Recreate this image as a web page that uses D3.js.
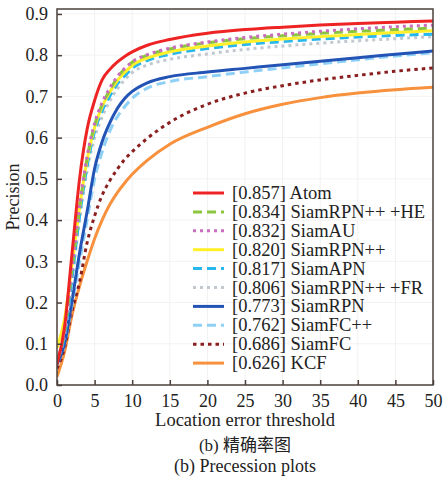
<!DOCTYPE html>
<html>
<head>
<meta charset="utf-8">
<script src="https://cdn.jsdelivr.net/npm/d3@7"></script>
<style>
  body { margin: 0; background: #fff; }
  text { font-family: "Liberation Serif", "Times New Roman", serif; fill: #222; }
</style>
</head>
<body>
<svg width="447" height="482"></svg>
<script>
var thresholds = [0, 1, 2, 3, 4, 5, 6, 7, 8, 9, 10, 12, 15, 20, 25, 30, 35, 40, 45, 50];

var atom      = [0.05, 0.14, 0.32, 0.50, 0.62, 0.69, 0.74, 0.765, 0.783, 0.797, 0.808, 0.824, 0.838, 0.853, 0.862, 0.868, 0.873, 0.877, 0.880, 0.883];
var rpnHE     = [0.06, 0.13, 0.28, 0.43, 0.55, 0.63, 0.68, 0.715, 0.745, 0.767, 0.783, 0.800, 0.815, 0.830, 0.840, 0.847, 0.853, 0.858, 0.862, 0.866];
var siamAU    = [0.06, 0.13, 0.285, 0.435, 0.555, 0.635, 0.685, 0.72, 0.748, 0.768, 0.784, 0.801, 0.817, 0.832, 0.843, 0.851, 0.858, 0.864, 0.869, 0.873];
var rpnPP     = [0.09, 0.16, 0.29, 0.43, 0.545, 0.625, 0.675, 0.71, 0.738, 0.758, 0.775, 0.793, 0.808, 0.822, 0.832, 0.839, 0.845, 0.850, 0.855, 0.859];
var siamAPN   = [0.06, 0.12, 0.26, 0.41, 0.53, 0.615, 0.665, 0.70, 0.73, 0.75, 0.768, 0.787, 0.802, 0.816, 0.826, 0.833, 0.839, 0.844, 0.848, 0.851];
var rpnFR     = [0.06, 0.12, 0.255, 0.40, 0.52, 0.60, 0.65, 0.688, 0.718, 0.74, 0.758, 0.776, 0.79, 0.803, 0.814, 0.822, 0.829, 0.835, 0.840, 0.845];
var siamRPN   = [0.05, 0.10, 0.205, 0.32, 0.42, 0.525, 0.59, 0.635, 0.67, 0.695, 0.712, 0.733, 0.748, 0.759, 0.768, 0.777, 0.785, 0.794, 0.802, 0.810];
var siamFCpp  = [0.05, 0.10, 0.195, 0.30, 0.40, 0.50, 0.565, 0.615, 0.65, 0.675, 0.695, 0.72, 0.736, 0.748, 0.759, 0.769, 0.779, 0.789, 0.798, 0.806];
var siamFC    = [0.04, 0.09, 0.18, 0.25, 0.345, 0.41, 0.46, 0.495, 0.523, 0.547, 0.566, 0.598, 0.637, 0.681, 0.708, 0.726, 0.740, 0.751, 0.761, 0.769];
var kcf       = [0.02, 0.08, 0.17, 0.24, 0.30, 0.355, 0.40, 0.437, 0.466, 0.49, 0.511, 0.545, 0.584, 0.625, 0.658, 0.681, 0.697, 0.708, 0.716, 0.722];

var names  = ["[0.857] Atom", "[0.834] SiamRPN++ +HE", "[0.832] SiamAU", "[0.820] SiamRPN++", "[0.817] SiamAPN",
              "[0.806] SiamRPN++ +FR", "[0.773] SiamRPN", "[0.762] SiamFC++", "[0.686] SiamFC", "[0.626] KCF"];
var values = [atom, rpnHE, siamAU, rpnPP, siamAPN, rpnFR, siamRPN, siamFCpp, siamFC, kcf];
var colors = ["#ee2424", "#8cc63f", "#cc6ec0", "#fff02a", "#27b6ee", "#c2c8cf", "#2353b5", "#8fd0f7", "#8a1f1f", "#f7913d"];
var dashes = [null, "9,5", "3,4", null, "9,5", "3,4", null, "9,5", "3.5,4", null];

var xTicks = d3.range(0, 51, 5);
var yTicks = d3.range(0, 0.91, 0.1);

var svg = d3.select("svg");
var mLeft = 57, mRight = 433, mTop = 9, mBottom = 385;

var x = d3.scaleLinear().domain([0, 50]).range([mLeft, mRight]);
var y = d3.scaleLinear().domain([0, 0.912]).range([mBottom, mTop]);

// faint grid
svg.append("g").selectAll("line").data(xTicks.slice(1, -1)).enter().append("line")
    .attr("x1", function(d) { return x(d); }).attr("x2", function(d) { return x(d); })
    .attr("y1", mTop).attr("y2", mBottom)
    .attr("stroke", "#f1f1f1").attr("stroke-width", 1);
svg.append("g").selectAll("line").data(yTicks.slice(1)).enter().append("line")
    .attr("x1", mLeft).attr("x2", mRight)
    .attr("y1", function(d) { return y(d); }).attr("y2", function(d) { return y(d); })
    .attr("stroke", "#f3f3f3").attr("stroke-width", 1);

svg.append("clipPath").attr("id", "clip").append("rect")
    .attr("x", mLeft).attr("y", mTop).attr("width", mRight - mLeft).attr("height", mBottom - mTop);

var line = d3.line()
    .x(function(d, i) { return x(thresholds[i]); })
    .y(function(d) { return y(d); })
    .curve(d3.curveMonotoneX);

var order = [9, 8, 7, 6, 5, 4, 3, 1, 2, 0];
svg.append("g").attr("clip-path", "url(#clip)")
    .selectAll("path").data(order).enter().append("path")
    .attr("d", function(k) { return line(values[k]); })
    .attr("fill", "none")
    .attr("stroke", function(k) { return colors[k]; })
    .attr("stroke-width", 3)
    .attr("stroke-dasharray", function(k) { return dashes[k]; });

// frame
svg.append("rect")
    .attr("x", mLeft).attr("y", mTop).attr("width", mRight - mLeft).attr("height", mBottom - mTop)
    .attr("fill", "none").attr("stroke", "#4b403b").attr("stroke-width", 1.5);

var xAxis = svg.append("g").attr("transform", "translate(0," + mBottom + ")")
    .call(d3.axisBottom(x).tickValues(xTicks).tickSize(-5).tickPadding(9).tickFormat(d3.format("d")));
var yAxis = svg.append("g").attr("transform", "translate(" + mLeft + ",0)")
    .call(d3.axisLeft(y).tickValues(yTicks).tickSize(-5).tickPadding(9).tickFormat(d3.format(".1f")));

[xAxis, yAxis].forEach(function(a) {
    a.select(".domain").remove();
    a.selectAll(".tick line").attr("stroke", "#4b403b").attr("stroke-width", 1.5);
    a.selectAll(".tick text").style("font-family", '"Liberation Serif", serif').style("font-size", "18px").attr("fill", "#222");
});

svg.append("text").attr("x", (mLeft + mRight) / 2).attr("y", 426).attr("text-anchor", "middle")
    .style("font-size", "18.5px").text("Location error threshold");
svg.append("text").attr("transform", "translate(19," + (mTop + mBottom) / 2 + ") rotate(-90)")
    .attr("text-anchor", "middle").style("font-size", "18px").text("Precision");
svg.append("text").attr("x", (mLeft + mRight) / 2).attr("y", 451).attr("text-anchor", "middle")
    .style("font-size", "17px")
    .html('(b) <tspan style="font-family:\'Noto Sans CJK SC\', sans-serif">精确率图</tspan>');
svg.append("text").attr("x", (mLeft + mRight) / 2).attr("y", 472).attr("text-anchor", "middle")
    .style("font-size", "18px").text("(b) Precession plots");

// legend
var legend = svg.append("g").selectAll("g").data(names).enter().append("g")
    .attr("transform", function(d, i) { return "translate(193," + (193 + i * 18.9) + ")"; });
legend.append("line").attr("x1", 0).attr("x2", 31).attr("y1", 0).attr("y2", 0)
    .attr("stroke", function(d, i) { return colors[i]; })
    .attr("stroke-width", 3)
    .attr("stroke-dasharray", function(d, i) { return dashes[i]; });
legend.append("text").attr("x", 39).attr("y", 6).style("font-size", "18.5px")
    .text(function(d) { return d; });
</script>
</body>
</html>
